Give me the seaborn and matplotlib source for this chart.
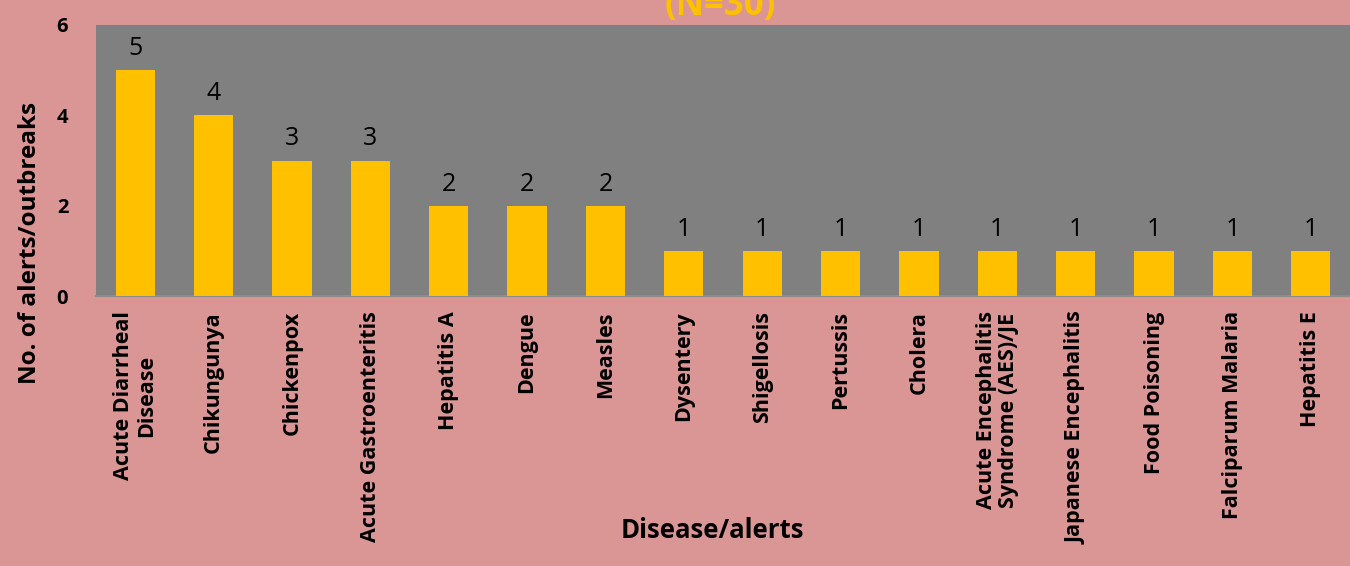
import matplotlib
matplotlib.use('Agg')
import matplotlib.pyplot as plt
import seaborn as sns
import pandas as pd

# Data
diseases = ['Acute Diarrheal\nDisease', 'Chikungunya', 'Chickenpox', 'Acute Gastroenteritis',
            'Hepatitis A', 'Dengue', 'Measles', 'Dysentery', 'Shigellosis', 'Pertussis',
            'Cholera', 'Acute Encephalitis\nSyndrome (AES)/JE', 'Japanese Encephalitis',
            'Food Poisoning', 'Falciparum Malaria', 'Hepatitis E']
counts = [5, 4, 3, 3, 2, 2, 2, 1, 1, 1, 1, 1, 1, 1, 1, 1]
y_ticks = [0, 2, 4, 6]

BG = '#D99694'
PLOT_BG = '#808080'
BAR = '#FFC000'

sns.set_style("white")
plt.rcParams['font.family'] = ['Open Sans', 'DejaVu Sans']
plt.rcParams['text.color'] = 'black'
plt.rcParams['xtick.color'] = 'black'
plt.rcParams['ytick.color'] = 'black'

df = pd.DataFrame({'disease': diseases, 'count': counts})

fig = plt.figure(figsize=(13.5, 5.66), dpi=100, facecolor=BG)
ax = fig.add_axes([96 / 1350, 1 - 296 / 566, 1 - 96 / 1350, (296 - 25) / 566])
ax.set_facecolor(PLOT_BG)

sns.barplot(data=df, x='disease', y='count', color=BAR, width=0.5,
            saturation=1, edgecolor='none', linewidth=0, ax=ax, zorder=3)

# value labels above bars
for i, v in enumerate(counts):
    ax.text(i, v + 0.2, str(v), ha='center', va='bottom', fontsize=18, color='black')

ax.set_ylim(0, 6)
ax.set_yticks(y_ticks)
ax.set_yticklabels([str(t) for t in y_ticks], fontsize=14.5, fontweight='bold')
ax.set_xlim(-0.5, len(diseases) - 0.5)
ax.set_xticks(range(len(diseases)))
ax.set_xticklabels(diseases, rotation=90, fontsize=15.5, fontweight='bold',
                   ha='center', va='top', multialignment='center', linespacing=1.1)
ax.tick_params(axis='y', length=8, color='#8c8c8c', labelcolor='black', pad=12)
ax.tick_params(axis='x', length=0, labelcolor='black', pad=11)
ax.set_xlabel('')
ax.set_ylabel('')

for s in ['top', 'right']:
    ax.spines[s].set_visible(False)
ax.spines['left'].set_visible(False)
ax.spines['bottom'].set_color('#8c8c8c')
ax.spines['bottom'].set_linewidth(1.5)

fig.text(30 / 1350, 1 - 243 / 566, 'No. of alerts/outbreaks', rotation=90,
         ha='center', va='center', fontsize=17.5, fontweight='bold', color='black')
fig.text(712 / 1350, 1 - 531 / 566, 'Disease/alerts', ha='center', va='center',
         fontsize=18.5, fontweight='bold', color='black')
# title is partly cut off at the top, as in the original
fig.text(720 / 1350, 1 - 15 / 566, '(N=30)', ha='center', va='baseline',
         fontsize=25, fontweight='bold', color=BAR)

plt.savefig('out.png', dpi=100, facecolor=BG)
plt.close()
